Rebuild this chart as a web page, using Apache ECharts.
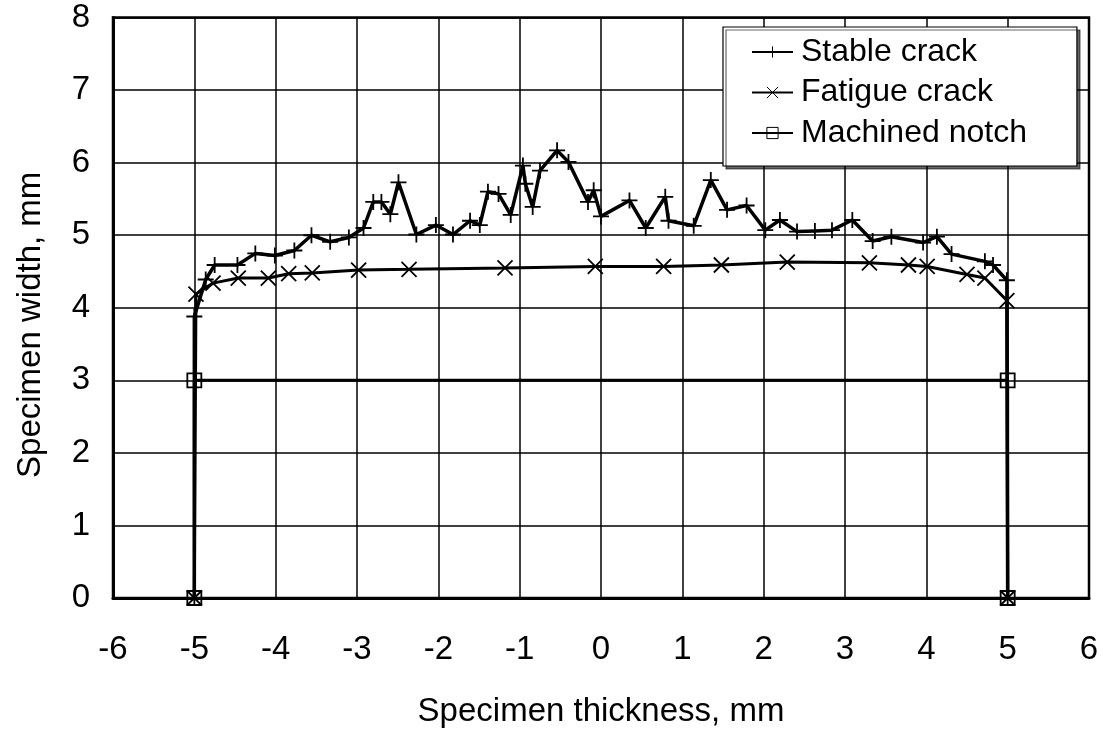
<!DOCTYPE html>
<html>
<head>
<meta charset="utf-8">
<script src="https://cdn.jsdelivr.net/npm/echarts@6/dist/echarts.min.js"></script>
<style>html,body{margin:0;padding:0;background:#fff}#c{width:1103px;height:733px}</style>
</head>
<body>
<div id="c"></div>
<script>
const seriesNames = ['Stable crack', 'Fatigue crack', 'Machined notch'];
const xTitle = 'Specimen thickness, mm';
const yTitle = 'Specimen width, mm';

const stableX = [-5, -5, -4.86, -4.75, -4.47, -4.25, -4.01, -3.77, -3.56, -3.33, -3.10, -2.92, -2.80, -2.70, -2.59, -2.49, -2.27, -2.03, -1.82, -1.61, -1.49, -1.39, -1.26, -1.11, -0.96, -0.93, -0.84, -0.75, -0.54, -0.40, -0.16, -0.09, 0.00, 0.35, 0.55, 0.79, 0.83, 1.14, 1.35, 1.55, 1.79, 2.02, 2.20, 2.41, 2.63, 2.84, 3.09, 3.34, 3.57, 3.96, 4.13, 4.31, 4.72, 4.82, 4.99, 5];
const stableY = [0, 3.88, 4.39, 4.59, 4.59, 4.75, 4.72, 4.79, 5.00, 4.91, 4.97, 5.10, 5.46, 5.46, 5.29, 5.73, 5.01, 5.14, 5.01, 5.20, 5.14, 5.60, 5.57, 5.28, 5.96, 5.71, 5.39, 5.89, 6.17, 6.01, 5.46, 5.62, 5.26, 5.48, 5.10, 5.53, 5.20, 5.13, 5.76, 5.35, 5.41, 5.07, 5.21, 5.05, 5.06, 5.07, 5.21, 4.92, 4.98, 4.90, 4.98, 4.74, 4.64, 4.59, 4.38, 0];

const fatigueX = [-5, -4.98, -4.77, -4.46, -4.09, -3.84, -3.55, -2.98, -2.36, -1.18, -0.07, 0.77, 1.48, 2.29, 3.30, 3.78, 4.01, 4.50, 4.72, 4.99, 5];
const fatigueY = [0, 4.19, 4.34, 4.41, 4.41, 4.47, 4.48, 4.52, 4.53, 4.55, 4.57, 4.57, 4.59, 4.63, 4.62, 4.59, 4.57, 4.46, 4.41, 4.10, 0];

const notchX = [-5, -5, 5, 5];
const notchY = [0, 3, 3, 0];

function pairs(xs, ys) { return xs.map((x, i) => [x, ys[i]]); }

const FONT = '"Liberation Sans", Arial, sans-serif';
const plusPath = 'path://M0,5L10,5M5,0L5,10';
const crossPath = 'path://M0,0L10,10M10,0L0,10';

function mkSeries(name, data, symbol, size, lw) {
  return {
    name: name,
    type: 'line',
    data: data,
    symbol: symbol,
    symbolSize: size,
    showAllSymbol: true,
    animation: false,
    lineStyle: { color: '#000', width: lw },
    itemStyle: { color: 'none', borderColor: '#000', borderWidth: 1.8 },
    emphasis: { disabled: true }
  };
}

const chart = echarts.init(document.getElementById('c'), null, { renderer: 'canvas' });
chart.setOption({
  backgroundColor: '#fff',
  animation: false,
  textStyle: { fontFamily: FONT, color: '#000' },
  grid: { left: 113, right: 14, top: 17.6, bottom: 130, show: true, borderColor: '#000', borderWidth: 2.5, backgroundColor: 'transparent' },
  xAxis: {
    type: 'value', min: -6, max: 6, interval: 1,
    name: xTitle, nameLocation: 'middle', nameGap: 97,
    nameTextStyle: { fontFamily: FONT, fontSize: 33, color: '#000' },
    axisLine: { show: true, onZero: false, lineStyle: { color: '#000', width: 3 } },
    axisTick: { show: false },
    axisLabel: { fontFamily: FONT, fontSize: 33, color: '#000', margin: 35 },
    splitLine: { show: true, lineStyle: { color: '#000', width: 1.5 } }
  },
  yAxis: {
    type: 'value', min: 0, max: 8, interval: 1,
    name: yTitle, nameLocation: 'middle', nameGap: 66,
    nameTextStyle: { fontFamily: FONT, fontSize: 33, color: '#000', padding: [0, 34, 0, 0] },
    axisLine: { show: true, onZero: false, lineStyle: { color: '#000', width: 3 } },
    axisTick: { show: false },
    axisLabel: { fontFamily: FONT, fontSize: 33, color: '#000', margin: 23 },
    splitLine: { show: true, lineStyle: { color: '#000', width: 1.5 } }
  },
  legend: {
    orient: 'vertical', left: 723, top: 27,
    padding: [9, 50, 17, 28],
    itemGap: 8.5, itemWidth: 41, itemHeight: 14,
    backgroundColor: '#fff', borderColor: '#000', borderWidth: 1.2,
    shadowColor: 'rgba(0,0,0,0.6)', shadowOffsetX: 3, shadowOffsetY: 3,
    textStyle: { fontFamily: FONT, fontSize: 32, lineHeight: 32, color: '#000', padding: [0, 0, 0, 3] },
    itemStyle: { color: 'none', borderColor: '#000', borderWidth: 1 },
    lineStyle: { color: '#000', width: 2 },
    data: seriesNames
  },
  series: [
    mkSeries(seriesNames[0], pairs(stableX, stableY), plusPath, 16, 3.5),
    mkSeries(seriesNames[1], pairs(fatigueX, fatigueY), crossPath, 15, 3),
    mkSeries(seriesNames[2], pairs(notchX, notchY), 'rect', 14, 3)
  ]
});
</script>
</body>
</html>
